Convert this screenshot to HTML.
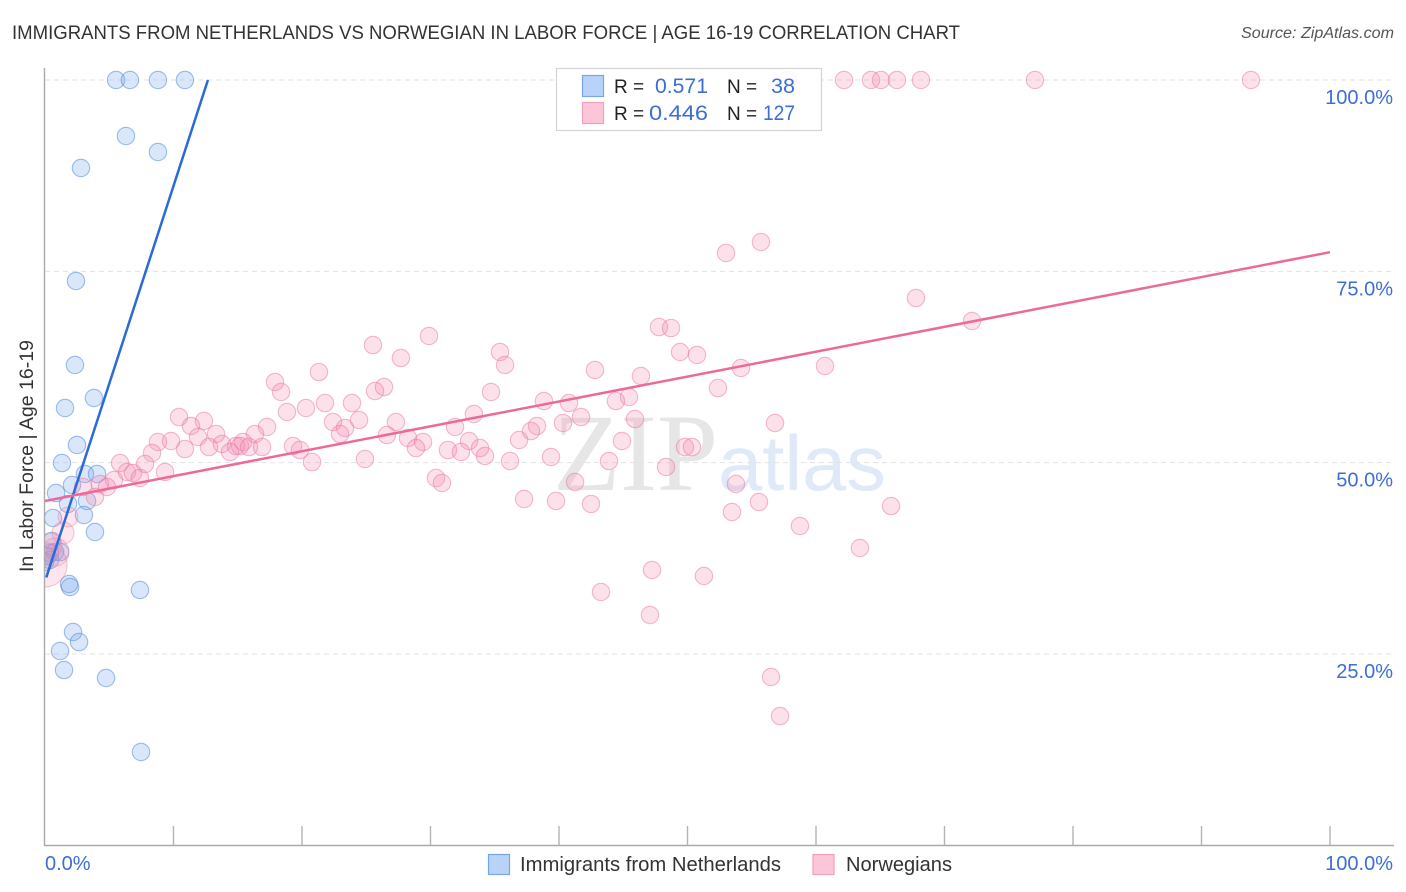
<!DOCTYPE html>
<html lang="en">
<head>
<meta charset="utf-8">
<title>Immigrants from Netherlands vs Norwegian in Labor Force | Age 16-19 Correlation Chart</title>
<style>
html,body{margin:0;padding:0;background:#fff;width:1406px;height:892px;overflow:hidden}
svg{display:block}
text{font-family:"Liberation Sans",sans-serif}
</style>
</head>
<body>
<svg id="chart" width="1406" height="892" viewBox="0 0 1406 892" xmlns="http://www.w3.org/2000/svg">
  <defs>
    <clipPath id="plot-clip"><rect x="45" y="60" width="1361" height="786"/></clipPath>
  </defs>
  <text x="12" y="39" font-size="19.5" fill="#333" textLength="948" lengthAdjust="spacingAndGlyphs">IMMIGRANTS FROM NETHERLANDS VS NORWEGIAN IN LABOR FORCE | AGE 16-19 CORRELATION CHART</text>
  <text x="1241" y="38" font-size="15.5" font-style="italic" fill="#555" textLength="153" lengthAdjust="spacingAndGlyphs">Source: ZipAtlas.com</text>
  <text x="553" y="490" font-size="110" fill="#e6e6e6" style="font-family:'Liberation Serif',serif">ZIP</text>
  <text x="718" y="490" font-size="78" fill="#dfe9f8" textLength="168" lengthAdjust="spacingAndGlyphs">atlas</text>
  <g id="grid"></g>
  <g id="axes"></g>
  <g id="points-blue" clip-path="url(#plot-clip)"></g>
  <g id="points-pink" clip-path="url(#plot-clip)"></g>
  <g id="trends"></g>
  <g id="tick-labels"></g>
  <text transform="translate(33,456) rotate(-90)" font-size="19" fill="#333" text-anchor="middle" textLength="232" lengthAdjust="spacingAndGlyphs">In Labor Force | Age 16-19</text>

  <g>
    <rect x="556.5" y="68.5" width="265" height="62" fill="#fff" fill-opacity="0.9" stroke="#d4d4d4" stroke-width="1.2"/>
    <rect x="582.5" y="75.5" width="21" height="21" fill="#b9d3f8" stroke="#77a6e8" stroke-width="1.2"/>
    <rect x="582.5" y="102.5" width="21" height="21" fill="#fcc6d8" stroke="#f0a0bc" stroke-width="1.2"/>
    <text x="614" y="93" font-size="19" fill="#222">R =</text>
    <text x="655" y="93" font-size="21" fill="#3b6fd4" textLength="53" lengthAdjust="spacingAndGlyphs">0.571</text>
    <text x="727" y="93" font-size="19" fill="#222">N =</text>
    <text x="771" y="93" font-size="21" fill="#3b6fd4" textLength="24" lengthAdjust="spacingAndGlyphs">38</text>
    <text x="614" y="120" font-size="19" fill="#222">R =</text>
    <text x="649" y="120" font-size="21" fill="#3b6fd4" textLength="59" lengthAdjust="spacingAndGlyphs">0.446</text>
    <text x="727" y="120" font-size="19" fill="#222">N =</text>
    <text x="763" y="120" font-size="21" fill="#3b6fd4" textLength="32" lengthAdjust="spacingAndGlyphs">127</text>
  </g>

  <g>
    <rect x="488.5" y="854.5" width="21" height="20" fill="#b9d3f8" stroke="#77a6e8" stroke-width="1.2"/>
    <text x="520" y="871" font-size="20" fill="#333" textLength="261" lengthAdjust="spacingAndGlyphs">Immigrants from Netherlands</text>
    <rect x="813" y="854.5" width="21" height="20" fill="#fcc6d8" stroke="#f0a0bc" stroke-width="1.2"/>
    <text x="846" y="871" font-size="20" fill="#333" textLength="106" lengthAdjust="spacingAndGlyphs">Norwegians</text>
  </g>
</svg>
<script>
const xTickValues = [10, 20, 30, 40, 50, 60, 70, 80, 90, 100];
const yGridValues = [25, 50, 75, 100];
const yTickLabels = ["25.0%", "50.0%", "75.0%", "100.0%"];
const xEdgeValues = [0, 100];
const xEdgeLabels = ["0.0%", "100.0%"];

const netherlandsX = [5.53,6.61,8.79,10.89,6.30,8.79,2.80,2.41,2.33,3.81,1.56,2.49,1.32,3.11,4.05,2.10,0.86,3.27,1.79,3.03,0.62,3.89,0.54,1.17,0.78,0.39,0.16,0.39,0.00,1.87,1.95,7.39,2.18,2.65,1.17,1.48,4.75,7.47];
const netherlandsY = [100,100,100,100,92.68,90.59,88.5,73.74,62.76,58.45,57.14,52.31,49.95,48.52,48.52,47.08,46.03,44.99,44.6,43.16,42.77,40.94,39.76,38.32,38.32,38.19,37.8,37.28,37.02,34.14,33.75,33.36,27.87,26.56,25.39,22.9,21.86,12.19];

const norwegianX = [57.82,62.18,64.28,65.06,66.3,68.17,77.04,93.85,55.72,53.0,67.78,72.14,47.78,48.72,29.88,25.52,35.41,49.42,50.74,27.7,35.8,60.7,54.16,42.8,21.32,46.38,17.9,52.37,26.38,25.68,18.37,34.71,45.45,38.83,44.43,21.79,23.89,40.78,20.31,18.83,33.38,10.43,41.71,12.37,45.91,22.41,24.44,27.31,56.81,40.31,11.36,17.28,31.91,38.29,23.35,37.82,13.31,16.34,22.96,26.61,11.91,28.25,36.89,44.9,33.0,8.79,9.81,13.77,15.41,29.42,14.86,15.18,15.88,16.89,19.3,10.89,12.76,19.84,28.87,31.36,33.85,49.8,50.35,32.37,14.4,8.33,34.24,39.38,24.9,36.19,43.89,20.78,5.84,7.78,48.33,9.34,6.38,6.85,7.39,30.43,5.37,30.89,41.25,53.77,4.28,2.96,4.82,3.89,37.28,39.77,55.56,42.49,65.84,53.46,58.75,63.42,47.24,51.28,43.27,47.08,56.5,57.2];
const norwegianY = [100,100,100,100,100,100,100,100,78.83,77.4,71.51,68.51,67.72,67.59,66.55,65.37,64.46,64.46,64.07,63.67,62.76,62.63,62.37,62.11,61.84,61.32,60.54,59.75,59.88,59.36,59.23,59.23,58.58,58.05,58.05,57.79,57.79,57.79,57.14,56.62,56.36,55.96,55.96,55.44,55.7,55.31,55.57,55.31,55.18,55.18,54.79,54.66,54.66,54.79,54.53,54.13,53.74,53.74,53.74,53.61,53.35,53.22,52.96,52.83,52.83,52.7,52.83,52.44,52.7,52.7,52.17,52.17,52.04,52.04,52.17,51.78,52.04,51.65,51.91,51.65,51.91,52.04,52.04,51.39,51.39,51.26,50.87,50.74,50.48,50.21,50.21,50.08,49.95,49.82,49.43,48.78,48.78,48.65,48.0,48.0,47.73,47.34,47.47,47.21,47.21,46.82,46.82,45.51,45.25,44.99,44.86,44.6,44.33,43.55,41.72,38.85,35.97,35.19,33.1,30.09,21.99,16.89];

const norwegianClusterX = [1.79,1.4,0.39,0.78,0.0];
const norwegianClusterY = [42.9,40.81,39.24,38.32,36.63];
const norwegianClusterWeight = [1.3,1.6,1.9,2.6,6.4];

const netherlandsTrendX = [0.1, 12.68];
const netherlandsTrendY = [35.0, 100];
const norwegianTrendX = [0, 100];
const norwegianTrendY = [44.99, 77.5];

const SVG_NS = "http://www.w3.org/2000/svg";
const xScale = v => 45 + v * 12.85;
const yScale = v => 845.3 - v * 7.653;
const baseRadius = 8.7;

function make(tag, parentId, props) {
  const el = document.createElementNS(SVG_NS, tag);
  for (const k in props) el.setAttribute(k, props[k]);
  document.getElementById(parentId).appendChild(el);
  return el;
}

yGridValues.forEach(v => {
  const line = make("line", "grid", {x1: 45, x2: 1394, y1: yScale(v), y2: yScale(v), stroke: "#e2e2e2", "stroke-width": 1, "stroke-dasharray": "5 4"});
  
  
});

const yAxisLine = make("line", "axes", {x1: 44.5, x2: 44.5, y1: 68, y2: 846, stroke: "#aaa", "stroke-width": 1.4});


const xAxisLine = make("line", "axes", {x1: 44, x2: 1394, y1: 845.5, y2: 845.5, stroke: "#aaa", "stroke-width": 1.4});


xTickValues.forEach(v => {
  const tick = make("line", "axes", {x1: xScale(v), x2: xScale(v), y1: 826, y2: 845, stroke: "#b4b4b4", "stroke-width": 1.4});
  
  
});

netherlandsX.forEach((v, i) => {
  const c = make("circle", "points-blue", {cx: xScale(v), cy: yScale(netherlandsY[i]), r: baseRadius, fill: "#7aa9ee", "fill-opacity": 0.28, stroke: "#5f93e0", "stroke-opacity": 0.6, "stroke-width": 1.1});
  
  
});

norwegianX.forEach((v, i) => {
  const c = make("circle", "points-pink", {cx: xScale(v), cy: yScale(norwegianY[i]), r: baseRadius, fill: "#f58fb2", "fill-opacity": 0.28, stroke: "#e8789f", "stroke-opacity": 0.5, "stroke-width": 1.1});
  
  
});

norwegianClusterX.forEach((v, i) => {
  const c = make("circle", "points-pink", {cx: xScale(v), cy: yScale(norwegianClusterY[i]), r: baseRadius * Math.sqrt(norwegianClusterWeight[i]), fill: "#f58fb2", "fill-opacity": 0.22, stroke: "#e8789f", "stroke-opacity": 0.4, "stroke-width": 1.1});
  
  
});

const blueTrend = make("line", "trends", {x1: xScale(netherlandsTrendX[0]), y1: yScale(netherlandsTrendY[0]), x2: xScale(netherlandsTrendX[1]), y2: yScale(netherlandsTrendY[1]), stroke: "#2b6bd6", "stroke-width": 2.5});


const pinkTrend = make("line", "trends", {x1: xScale(norwegianTrendX[0]), y1: yScale(norwegianTrendY[0]), x2: xScale(norwegianTrendX[1]), y2: yScale(norwegianTrendY[1]), stroke: "#ec6a9a", "stroke-width": 2.5});



yGridValues.forEach((v, i) => {
  const t = make("text", "tick-labels", {x: 1393, y: yScale(v) + 24, "font-size": 20, fill: "#3b6fd4", "text-anchor": "end"});
  t.textContent = yTickLabels[i];
  
  
});

xEdgeValues.forEach((v, i) => {
  const t = make("text", "tick-labels", {x: i === 0 ? xScale(v) : 1393, y: 870, "font-size": 20, fill: "#3b6fd4", "text-anchor": i === 0 ? "start" : "end"});
  t.textContent = xEdgeLabels[i];
  
  
});
</script>
</body>
</html>
